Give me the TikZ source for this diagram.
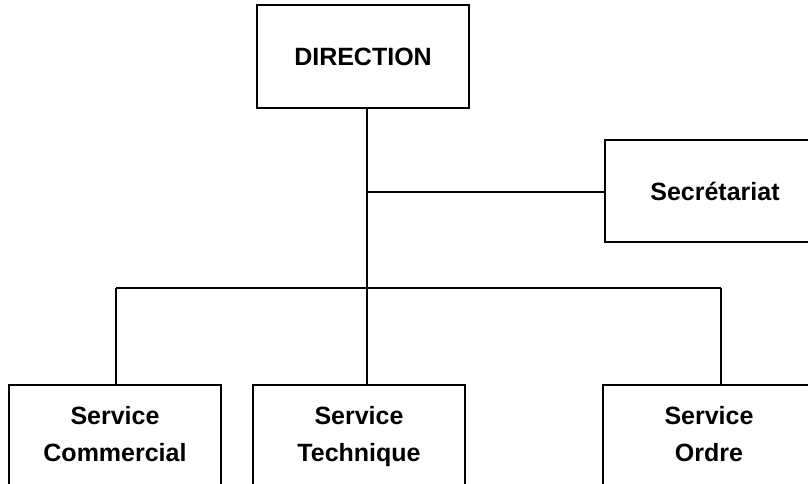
\documentclass[tikz,border=0pt]{standalone}
\usepackage{fontspec}
\setmainfont{Liberation Sans}
\usetikzlibrary{positioning}

\begin{document}
\begin{tikzpicture}[
    x=1pt, y=1pt,
    box/.style={draw, line width=1.6pt, minimum width=212pt, minimum height=103pt, align=center, inner sep=0pt,
      font=\fontsize{25pt}{37pt}\selectfont\bfseries},
    service/.style={box, text depth=6pt},
    link/.style={line width=1.6pt}
]
  \useasboundingbox (0,0) rectangle (808,-483);
  \clip (0,0) rectangle (808,-483);

  % Top of the chart
  \node[box] (direction) at (363,-56.5) {DIRECTION};
  \node[box, minimum width=220pt, minimum height=102pt] (secretariat) at (715,-191) {Secrétariat};

  % Bottom row (cut by the page edge)
  \node[service] (commercial) at (115,-436.5) {Service\\Commercial};
  \node[service] (technique) at (359,-436.5) {Service\\Technique};
  \node[service] (ordre) at (709,-436.5) {Service\\Ordre};

  % Bus points
  \coordinate (trunk) at (367,-288);
  \coordinate (side) at (367,-192);
  \coordinate (busleft) at (116,-288);
  \coordinate (busright) at (721,-288);

  \draw[link] (direction.south -| trunk) -- (trunk);
  \draw[link] (side) -- (side -| secretariat.west);
  \draw[link] (busleft) -- (busright);
  \draw[link] (busleft) -- (busleft |- commercial.north);
  \draw[link] (trunk) -- (trunk |- technique.north);
  \draw[link] (busright) -- (busright |- ordre.north);

\end{tikzpicture}
\end{document}
